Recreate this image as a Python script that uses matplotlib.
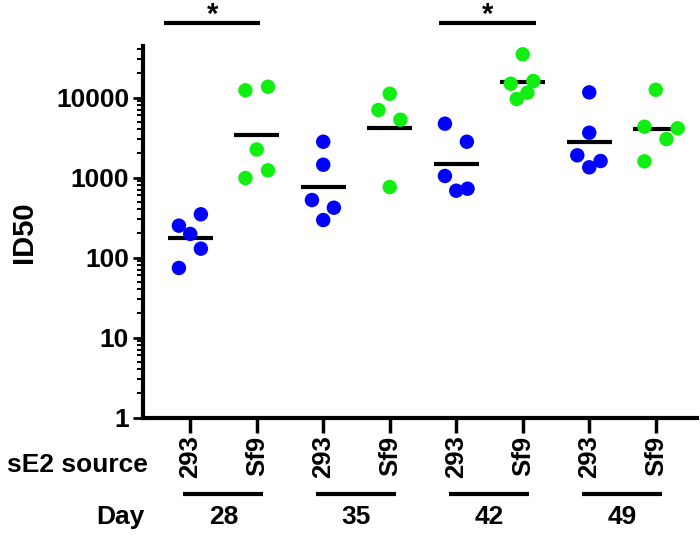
import matplotlib
matplotlib.use('Agg')
import matplotlib.pyplot as plt
import numpy as np
import matplotlib.transforms as mtrans
from matplotlib.ticker import FixedLocator, NullFormatter

plt.rcParams['font.family'] = ['Liberation Sans', 'DejaVu Sans']
plt.rcParams['font.weight'] = 'bold'

# ---------------- data ----------------
days = ['28', '35', '42', '49']
sources = ['293', 'Sf9']
d28_293 = [250, 347, 197, 129, 74]
d28_sf9 = [12300, 13650, 2240, 1230, 986]
d35_293 = [2800, 1445, 523, 419, 294]
d35_sf9 = [11150, 6980, 5280, 760]
d42_293 = [4705, 2800, 1045, 684, 724]
d42_sf9 = [34670, 14880, 16070, 11480, 9580]
d49_293 = [11600, 3630, 1894, 1607, 1341]
d49_sf9 = [12500, 4315, 4121, 3027, 1594]
groups = [d28_293, d28_sf9, d35_293, d35_sf9, d42_293, d42_sf9, d49_293, d49_sf9]
y_ticks = [1, 10, 100, 1000, 10000]
y_ticklabels = ['1', '10', '100', '1000', '10000']
sig_pairs = [(0, 1), (4, 5)]
sig_label = '*'

# ---------------- layout (positions / styles) ----------------
jitter = [
    [-0.17, 0.16, 0, 0.16, -0.17],
    [-0.17, 0.17, 0, 0.17, -0.17],
    [0, 0, -0.17, 0.16, 0],
    [0, -0.17, 0.16, 0],
    [-0.17, 0.16, -0.17, 0, 0.17],
    [0, -0.18, 0.16, 0.07, -0.09],
    [0, 0, -0.18, 0.17, 0],
    [0, -0.17, 0.33, 0.16, -0.17],
]
sig_spans = [(-0.39, 1.05), (3.74, 5.2)]
colors = {'293': '#0000ff', 'Sf9': '#11ee11'}

W, H = 700, 535
fig = plt.figure(figsize=(7, 5.35), dpi=100)
ax = fig.add_axes([143 / W, (H - 417.5) / H, (697 - 143) / W, (417.5 - 46) / H])

ax.set_yscale('log')
ax.set_ylim(1, 10 ** 4.644)
ax.set_xlim(-0.71, 7.62)

for i, vals in enumerate(groups):
    src = sources[i % 2]
    vals = np.asarray(vals, dtype=float)
    xs = i + np.asarray(jitter[i])
    ax.scatter(xs, vals, s=108, color=colors[src], edgecolors='none', zorder=3, clip_on=False)
    gmean = 10 ** np.mean(np.log10(vals))
    ax.plot([i - 0.34, i + 0.34], [gmean, gmean], color='black', lw=3, zorder=2,
            solid_capstyle='butt')

# axes styling
for s in ['top', 'right']:
    ax.spines[s].set_visible(False)
for s in ['left', 'bottom']:
    ax.spines[s].set_linewidth(3)
ax.yaxis.set_major_locator(FixedLocator(y_ticks))
ax.set_yticklabels(y_ticklabels)
minors = [m * 10 ** e for e in range(0, 5) for m in range(2, 10)]
minors = [v for v in minors if v < 10 ** 4.644]
ax.yaxis.set_minor_locator(FixedLocator(minors))
ax.yaxis.set_minor_formatter(NullFormatter())
ax.tick_params(axis='y', which='major', length=7, width=2, pad=3, labelsize=19)
ax.tick_params(axis='y', which='minor', length=4.5, width=1.5)
ax.set_xticks(range(8))
ax.set_xticklabels(sources * 4, rotation=90, fontsize=18.5)
ax.tick_params(axis='x', which='major', length=11, width=2.5, pad=2)
ax.tick_params(axis='x', which='minor', length=0)

# significance brackets
for (a, b), (l, r) in zip(sig_pairs, sig_spans):
    yl = 10 ** ((417.5 - 23) / 80)
    ax.plot([l, r], [yl, yl], color='black', lw=3, clip_on=False, solid_capstyle='butt')
    ax.text((l + r) / 2, 10 ** ((417.5 - 1) / 80), sig_label, ha='center', va='top',
            fontsize=21, fontweight='bold', clip_on=False)

# category rows below axis
bt = mtrans.blended_transform_factory(ax.transData, fig.transFigure)
for k, d in enumerate(days):
    x0 = 2 * k
    ax.plot([x0 - 0.11, x0 + 1.1], [1 - 494 / H, 1 - 494 / H], color='black', lw=3,
            transform=bt, clip_on=False, solid_capstyle='butt')
    ax.text(x0 + 0.5, 1 - 517 / H, d, transform=bt, ha='center', va='center',
            fontsize=19, fontweight='bold')

fig.text(148 / W, 1 - 465 / H, 'sE2 source', ha='right', va='center', fontsize=19,
         fontweight='bold')
fig.text(145 / W, 1 - 517 / H, 'Day', ha='right', va='center', fontsize=19,
         fontweight='bold')
fig.text(24 / W, 1 - 232 / H, 'ID50', rotation=90, ha='center', va='center', fontsize=21,
         fontweight='bold')

fig.savefig('out.png', dpi=100)
